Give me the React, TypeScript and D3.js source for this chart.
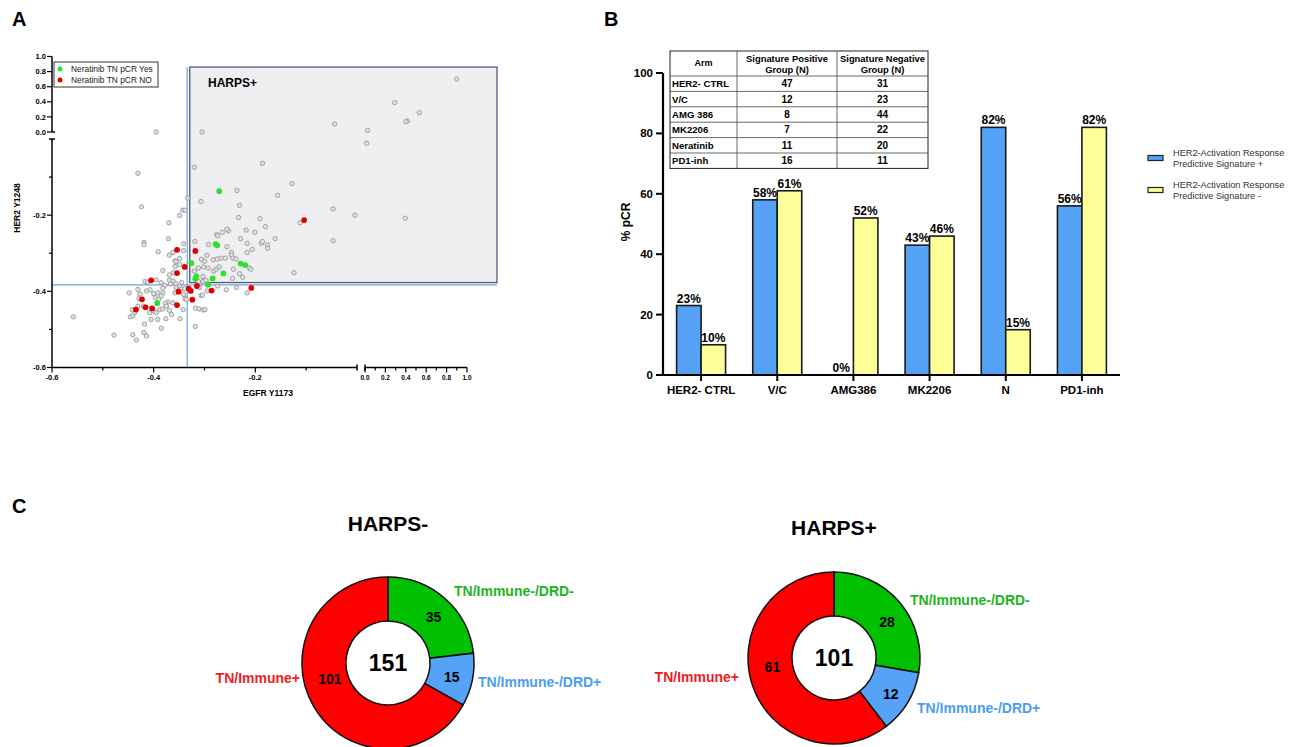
import React from "react";
import * as d3 from "d3";

const FONT = "'Liberation Sans', Arial, Helvetica, sans-serif";

// ---------------- Panel A data (EGFR Y1173 vs HER2 Y1248) ----------------
const greyPoints: [number, number][] = [
  [-0.419,-0.271],[-0.419,-0.277],[-0.371,-0.262],[-0.341,-0.275],[-0.391,-0.296],[-0.369,-0.305],
  [-0.362,-0.298],[-0.358,-0.320],[-0.356,-0.322],[-0.349,-0.314],[-0.341,-0.293],[-0.349,-0.330],
  [-0.358,-0.335],[-0.382,-0.345],[-0.369,-0.357],[-0.361,-0.351],[-0.395,-0.370],[-0.385,-0.377],
  [-0.378,-0.384],[-0.369,-0.371],[-0.362,-0.373],[-0.367,-0.381],[-0.356,-0.380],[-0.349,-0.386],
  [-0.345,-0.377],[-0.356,-0.390],[-0.346,-0.394],[-0.339,-0.393],[-0.358,-0.404],[-0.341,-0.408],
  [-0.339,-0.419],[-0.417,-0.374],[-0.412,-0.376],[-0.448,-0.404],[-0.431,-0.395],[-0.427,-0.407],
  [-0.429,-0.419],[-0.414,-0.399],[-0.407,-0.396],[-0.400,-0.406],[-0.392,-0.404],[-0.382,-0.392],
  [-0.382,-0.404],[-0.385,-0.412],[-0.397,-0.417],[-0.390,-0.421],[-0.372,-0.428],[-0.362,-0.430],
  [-0.377,-0.432],[-0.446,-0.467],[-0.441,-0.464],[-0.437,-0.456],[-0.442,-0.448],[-0.431,-0.439],
  [-0.420,-0.439],[-0.408,-0.456],[-0.400,-0.452],[-0.395,-0.456],[-0.388,-0.448],[-0.382,-0.446],
  [-0.375,-0.439],[-0.369,-0.450],[-0.365,-0.461],[-0.376,-0.472],[-0.392,-0.474],[-0.405,-0.474],
  [-0.348,-0.472],[-0.342,-0.448],[-0.336,-0.421],[-0.418,-0.486],[-0.441,-0.514],[-0.434,-0.528],
  [-0.419,-0.508],[-0.414,-0.517],[-0.385,-0.497],[-0.478,-0.515],[-0.558,-0.467],[-0.318,-0.492],
  [-0.307,-0.411],[-0.304,-0.410],[-0.295,-0.399],[-0.311,-0.446],[-0.303,-0.449],[-0.299,-0.448],
  [-0.318,-0.444],[-0.216,-0.404],[-0.237,-0.390],[-0.257,-0.396],[-0.274,-0.386],[-0.310,-0.390],
  [0.899,0.702],[0.291,0.389],[0.533,0.256],[0.415,0.146],[0.402,0.137],[0.026,0.022],
  [0.016,-0.011],[-0.044,0.106],[-0.305,0.0],[-0.395,0.0],[-0.431,-0.090],[-0.424,-0.178],
  [-0.333,-0.155],[-0.343,-0.187],[-0.338,-0.187],[-0.349,-0.201],[-0.370,-0.220],
  [-0.320,-0.074],[-0.186,-0.064],[-0.128,-0.117],[-0.156,-0.148],[-0.236,-0.135],[-0.307,-0.164],
  [-0.231,-0.174],[-0.233,-0.206],[-0.191,-0.209],[-0.180,-0.230],[-0.112,-0.220],[-0.047,-0.184],
  [-0.004,-0.200],[0.395,-0.208],[-0.047,-0.267],[-0.124,-0.351],[-0.161,-0.262],[-0.218,-0.239],
  [-0.201,-0.245],[-0.253,-0.241],[-0.256,-0.237],[-0.265,-0.245],[-0.276,-0.251],[-0.274,-0.254],
  [-0.229,-0.262],[-0.216,-0.274],[-0.188,-0.274],[-0.186,-0.269],[-0.176,-0.278],[-0.176,-0.287],
  [-0.206,-0.290],[-0.216,-0.298],[-0.247,-0.298],[-0.247,-0.305],[-0.256,-0.283],[-0.295,-0.305],
  [-0.292,-0.277],[-0.319,-0.269],[-0.283,-0.317],[-0.275,-0.315],[-0.267,-0.313],[-0.259,-0.313],
  [-0.244,-0.313],[-0.238,-0.315],[-0.306,-0.316],[-0.300,-0.321],[-0.212,-0.338],[-0.209,-0.342],
  [-0.243,-0.342],[-0.293,-0.339],[-0.282,-0.347],[-0.277,-0.342],[-0.271,-0.336],[-0.312,-0.339],
  [-0.302,-0.336],[-0.320,-0.347],[-0.231,-0.354],[-0.225,-0.363],[-0.245,-0.366],[-0.312,-0.374],
  [-0.303,-0.361],[-0.303,-0.374],[-0.297,-0.371],
];
const greenPoints: [number, number][] = [
  [-0.271,-0.137],[-0.278,-0.276],[-0.275,-0.279],[-0.229,-0.327],[-0.220,-0.331],[-0.263,-0.353],
  [-0.326,-0.326],[-0.284,-0.366],[-0.318,-0.367],[-0.316,-0.361],[-0.293,-0.383],[-0.393,-0.431],
];
const redPoints: [number, number][] = [
  [-0.104,-0.213],[-0.318,-0.294],[-0.354,-0.291],[-0.339,-0.336],[-0.354,-0.352],[-0.405,-0.371],
  [-0.351,-0.401],[-0.331,-0.393],[-0.327,-0.399],[-0.324,-0.422],[-0.354,-0.436],[-0.315,-0.386],
  [-0.286,-0.398],[-0.208,-0.391],[-0.423,-0.421],[-0.435,-0.448],[-0.416,-0.442],[-0.403,-0.445],
];
const legendA = ["Neratinib TN pCR Yes", "Neratinib TN pCR NO"];
const yHiTicks = [0, 0.2, 0.4, 0.6, 0.8, 1.0];
const yLoTicks = [-0.6, -0.4, -0.2];
const yLoMinor = [-0.5, -0.3, -0.1];
const xLoTicks = [-0.6, -0.4, -0.2];
const xLoMinor = [-0.5, -0.3, -0.1];
const xHiTicks = [0, 0.2, 0.4, 0.6, 0.8, 1.0];
const xHiMinor = [0.1, 0.3, 0.5, 0.7, 0.9];
const thresholdX = -0.334;
const thresholdY = -0.383;
const harpsBox = { x0: -0.329, x1: 1.294, y0: -0.377, y1: 0.86 };

// ---------------- Panel B data ----------------
const arms = ["HER2- CTRL", "V/C", "AMG386", "MK2206", "N", "PD1-inh"];
const sigPositive = [23, 58, 0, 43, 82, 56];
const sigNegative = [10, 61, 52, 46, 15, 82];
const yTicksB = [0, 20, 40, 60, 80, 100];
const tableArms = ["HER2- CTRL", "V/C", "AMG 386", "MK2206", "Neratinib", "PD1-inh"];
const tablePosN = [47, 12, 8, 7, 11, 16];
const tableNegN = [31, 23, 44, 22, 20, 11];
const legendB = [
  ["HER2-Activation Response", "Predictive Signature +"],
  ["HER2-Activation Response", "Predictive Signature -"],
];

// ---------------- Panel C data ----------------
const donutCategories = ["TN/Immune-/DRD-", "TN/Immune-/DRD+", "TN/Immune+"];
const harpsMinusCounts = [35, 15, 101];
const harpsPlusCounts = [28, 12, 61];

const GREEN = "#00c000";
const BLUE = "#55a2f7";
const RED = "#ff0000";
const YELLOW = "#ffff99";

function PanelA() {
  const xLo = d3.scaleLinear().domain([-0.6, 0]).range([52, 357]);
  const xHi = d3.scaleLinear().domain([0, 1]).range([365, 467]);
  const yLo = d3.scaleLinear().domain([-0.6, 0]).range([367.5, 139]);
  const yHi = d3.scaleLinear().domain([0, 1]).range([132, 56.5]);
  const X = (v: number) => (v > 0 ? xHi(v) : xLo(v));
  const Y = (v: number) => (v >= 0 ? yHi(v) : yLo(v));
  const axisY0 = yLo(-0.6);
  const axisX0 = xLo(-0.6);
  const tickFont = { fontFamily: FONT, fontSize: 7.5, fontWeight: "bold" as const };
  const fmt = (v: number) => v.toFixed(1);
  return (
    <g>
      <text x={12} y={26} fontFamily={FONT} fontSize={20} fontWeight="bold">A</text>
      {/* HARPS+ box */}
      <rect x={X(harpsBox.x0)} y={Y(harpsBox.y1)} width={X(harpsBox.x1) - X(harpsBox.x0)}
        height={Y(harpsBox.y0) - Y(harpsBox.y1)} fill="#efeef1" stroke="#4d5a7a" strokeWidth={1.3} />
      <text x={208} y={87} fontFamily={FONT} fontSize={12} fontWeight="bold">HARPS+</text>
      {/* threshold lines */}
      <line x1={X(thresholdX)} x2={X(thresholdX)} y1={Y(harpsBox.y1)} y2={axisY0} stroke="#6aa3dc" strokeWidth={1.2} />
      <line x1={axisX0} x2={X(harpsBox.x1)} y1={Y(thresholdY)} y2={Y(thresholdY)} stroke="#6aa3dc" strokeWidth={1.2} />
      {/* points */}
      {greyPoints.map((p, i) => (
        <circle key={"g" + i} cx={X(p[0])} cy={Y(p[1])} r={2.2} fill="#e2e2e2" stroke="#959595" strokeWidth={0.85} />
      ))}
      {greenPoints.map((p, i) => (
        <circle key={"gr" + i} cx={X(p[0])} cy={Y(p[1])} r={2.9} fill="#2ee02e" />
      ))}
      {redPoints.map((p, i) => (
        <circle key={"r" + i} cx={X(p[0])} cy={Y(p[1])} r={2.9} fill="#e00000" />
      ))}
      {/* Y axis lower segment */}
      <line x1={axisX0} x2={axisX0} y1={yLo(-0.6)} y2={yLo(0)} stroke="#000" strokeWidth={1.5} />
      <line x1={axisX0 - 3} x2={axisX0 + 3} y1={yLo(0)} y2={yLo(0)} stroke="#000" strokeWidth={1.5} />
      {yLoTicks.map((t) => (
        <g key={"yl" + t}>
          <line x1={axisX0 - 5} x2={axisX0} y1={yLo(t)} y2={yLo(t)} stroke="#000" strokeWidth={1.2} />
          <text x={axisX0 - 6} y={yLo(t) + 2.6} textAnchor="end" {...tickFont}>{fmt(t)}</text>
        </g>
      ))}
      {yLoMinor.map((t) => (
        <line key={"ylm" + t} x1={axisX0 - 3} x2={axisX0} y1={yLo(t)} y2={yLo(t)} stroke="#000" strokeWidth={1.2} />
      ))}
      {/* Y axis upper segment */}
      <line x1={axisX0} x2={axisX0} y1={yHi(0)} y2={yHi(1)} stroke="#000" strokeWidth={1.5} />
      <line x1={axisX0} x2={axisX0 + 3} y1={yHi(0)} y2={yHi(0)} stroke="#000" strokeWidth={1.5} />
      {yHiTicks.map((t) => (
        <g key={"yh" + t}>
          <line x1={axisX0 - 5} x2={axisX0} y1={yHi(t)} y2={yHi(t)} stroke="#000" strokeWidth={1.2} />
          <text x={axisX0 - 6} y={yHi(t) + 2.6} textAnchor="end" {...tickFont}>{fmt(t)}</text>
        </g>
      ))}
      <text transform={`translate(20,${208}) rotate(-90)`} textAnchor="middle" fontFamily={FONT} fontSize={8.5} fontWeight="bold">HER2 Y1248</text>
      {/* X axis left segment */}
      <line x1={xLo(-0.6)} x2={xLo(0)} y1={axisY0} y2={axisY0} stroke="#000" strokeWidth={1.5} />
      <line x1={xLo(0)} x2={xLo(0)} y1={axisY0 - 3} y2={axisY0 + 3} stroke="#000" strokeWidth={1.5} />
      {xLoTicks.map((t) => (
        <g key={"xl" + t}>
          <line x1={xLo(t)} x2={xLo(t)} y1={axisY0} y2={axisY0 + 5} stroke="#000" strokeWidth={1.2} />
          <text x={xLo(t)} y={axisY0 + 12} textAnchor="middle" {...tickFont}>{fmt(t)}</text>
        </g>
      ))}
      {xLoMinor.map((t) => (
        <line key={"xlm" + t} x1={xLo(t)} x2={xLo(t)} y1={axisY0} y2={axisY0 + 3} stroke="#000" strokeWidth={1.2} />
      ))}
      {/* X axis right segment */}
      <line x1={xHi(0)} x2={xHi(1)} y1={axisY0} y2={axisY0} stroke="#000" strokeWidth={1.5} />
      <line x1={xHi(0)} x2={xHi(0)} y1={axisY0 - 3} y2={axisY0 + 3} stroke="#000" strokeWidth={1.5} />
      {xHiTicks.map((t) => (
        <g key={"xh" + t}>
          <line x1={xHi(t)} x2={xHi(t)} y1={axisY0} y2={axisY0 + 5} stroke="#000" strokeWidth={1.2} />
          <text x={xHi(t)} y={axisY0 + 12} textAnchor="middle" fontFamily={FONT} fontSize={6.5} fontWeight="bold">{fmt(t)}</text>
        </g>
      ))}
      {xHiMinor.map((t) => (
        <line key={"xhm" + t} x1={xHi(t)} x2={xHi(t)} y1={axisY0} y2={axisY0 + 3} stroke="#000" strokeWidth={1.2} />
      ))}
      <text x={268} y={396} textAnchor="middle" fontFamily={FONT} fontSize={8.5} fontWeight="bold">EGFR Y1173</text>
      {/* legend */}
      <rect x={54} y={62} width={104} height={25} fill="#fff" stroke="#333" strokeWidth={1} />
      <circle cx={60} cy={69} r={2.5} fill="#2ee02e" />
      <text x={71} y={72} fontFamily={FONT} fontSize={8.4} fill="#222">{legendA[0]}</text>
      <circle cx={60} cy={80} r={2.5} fill="#e00000" />
      <text x={71} y={83} fontFamily={FONT} fontSize={8.4} fill="#222">{legendA[1]}</text>
    </g>
  );
}

function PanelB() {
  const x = d3.scaleBand<string>().domain(arms).range([663, 1120]).paddingInner(0).paddingOuter(0);
  const xs = d3.scaleBand<string>().domain(["pos", "neg"]).range([0, x.bandwidth()]).paddingInner(0).paddingOuter(0.555);
  const y = d3.scaleLinear().domain([0, 100]).range([375, 73]);
  const bold = { fontFamily: FONT, fontWeight: "bold" as const };
  const series = [
    { key: "pos", vals: sigPositive, color: BLUE },
    { key: "neg", vals: sigNegative, color: YELLOW },
  ];
  // table layout
  const colX = [670, 737, 837, 928];
  const tTop = 51, hdrBottom = 76, rowH = 15.4;
  const tBottom = hdrBottom + rowH * tableArms.length;
  return (
    <g>
      <text x={604} y={26} fontFamily={FONT} fontSize={20} fontWeight="bold">B</text>
      {series.map((s) =>
        s.vals.map((v, i) => (
          <rect key={s.key + i} x={(x(arms[i]) as number) + (xs(s.key) as number)} y={y(v)}
            width={xs.bandwidth()} height={y(0) - y(v)} fill={s.color} stroke="#1a1a1a" strokeWidth={1.6} />
        ))
      )}
      {series.map((s) =>
        s.vals.map((v, i) => (
          <text key={"l" + s.key + i} x={(x(arms[i]) as number) + (xs(s.key) as number) + xs.bandwidth() / 2}
            y={y(v) - 3} textAnchor="middle" fontSize={12} {...bold}>{v}%</text>
        ))
      )}
      {/* axes */}
      <line x1={663} x2={663} y1={y(0)} y2={y(100)} stroke="#000" strokeWidth={2.2} />
      {yTicksB.map((t) => (
        <g key={"yb" + t}>
          <line x1={656} x2={663} y1={y(t)} y2={y(t)} stroke="#000" strokeWidth={2} />
          <text x={653} y={y(t) + 4} textAnchor="end" fontSize={11.5} {...bold}>{t}</text>
        </g>
      ))}
      <line x1={656} x2={1120} y1={y(0)} y2={y(0)} stroke="#000" strokeWidth={2.2} />
      {arms.map((a) => (
        <g key={"xb" + a}>
          <line x1={(x(a) as number) + x.bandwidth() / 2} x2={(x(a) as number) + x.bandwidth() / 2} y1={y(0)} y2={y(0) + 6} stroke="#000" strokeWidth={2} />
          <text x={(x(a) as number) + x.bandwidth() / 2} y={394} textAnchor="middle" fontSize={11.5} {...bold}>{a}</text>
        </g>
      ))}
      <text transform={`translate(630,222) rotate(-90)`} textAnchor="middle" fontSize={12} {...bold}>% pCR</text>
      {/* table */}
      <rect x={colX[0]} y={tTop} width={colX[3] - colX[0]} height={tBottom - tTop} fill="#fff" stroke="#222" strokeWidth={1} />
      {[colX[1], colX[2]].map((cx) => (
        <line key={"c" + cx} x1={cx} x2={cx} y1={tTop} y2={tBottom} stroke="#444" strokeWidth={0.8} />
      ))}
      {tableArms.map((_, i) => (
        <line key={"rl" + i} x1={colX[0]} x2={colX[3]} y1={hdrBottom + rowH * i} y2={hdrBottom + rowH * i} stroke="#444" strokeWidth={0.8} />
      ))}
      <text x={(colX[0] + colX[1]) / 2} y={66} textAnchor="middle" fontSize={9} {...bold}>Arm</text>
      <text x={(colX[1] + colX[2]) / 2} y={61.5} textAnchor="middle" fontSize={9.4} {...bold}>Signature Positive</text>
      <text x={(colX[1] + colX[2]) / 2} y={72.5} textAnchor="middle" fontSize={9.4} {...bold}>Group (N)</text>
      <text x={(colX[2] + colX[3]) / 2} y={61.5} textAnchor="middle" fontSize={9.4} {...bold}>Signature Negative</text>
      <text x={(colX[2] + colX[3]) / 2} y={72.5} textAnchor="middle" fontSize={9.4} {...bold}>Group (N)</text>
      {tableArms.map((a, i) => {
        const cy = hdrBottom + rowH * i + rowH / 2 + 3.5;
        return (
          <g key={"tr" + i}>
            <text x={colX[0] + 2} y={cy} fontSize={9.6} {...bold}>{a}</text>
            <text x={(colX[1] + colX[2]) / 2} y={cy} textAnchor="middle" fontSize={10} {...bold}>{tablePosN[i]}</text>
            <text x={(colX[2] + colX[3]) / 2} y={cy} textAnchor="middle" fontSize={10} {...bold}>{tableNegN[i]}</text>
          </g>
        );
      })}
      {/* legend */}
      {legendB.map((lines, i) => (
        <g key={"lg" + i} transform={`translate(1148,${158 + i * 32})`}>
          <rect x={0} y={-2.5} width={15} height={5} fill={i === 0 ? BLUE : YELLOW} stroke="#222" strokeWidth={1.2} />
          <text x={25} y={-2} fontFamily={FONT} fontSize={9.2} fill="#333">{lines[0]}</text>
          <text x={25} y={9} fontFamily={FONT} fontSize={9.2} fill="#333">{lines[1]}</text>
        </g>
      ))}
    </g>
  );
}

type DonutProps = {
  cx: number; cy: number; title: string; titleY: number; counts: number[];
  labelPos: [number, number, "start" | "end"][];
  numberShift: [number, number][];
};

function Donut({ cx, cy, title, titleY, counts, labelPos, numberShift }: DonutProps) {
  const colors = [GREEN, BLUE, RED];
  const textColors = ["#1db51d", "#4d9cf0", "#ee1c24"];
  const pie = d3.pie<number>().sort(null).value((d) => d);
  const arcs = pie(counts);
  const arc = d3.arc<d3.PieArcDatum<number>>().innerRadius(42).outerRadius(86);
  const total = d3.sum(counts);
  return (
    <g>
      <text x={cx} y={titleY} textAnchor="middle" fontFamily={FONT} fontSize={21} fontWeight="bold">{title}</text>
      <g transform={`translate(${cx},${cy})`}>
        {arcs.map((a, i) => (
          <path key={i} d={arc(a) as string} fill={colors[i]} stroke="#111" strokeWidth={1.5} />
        ))}
        {arcs.map((a, i) => {
          const [lx, ly] = arc.centroid(a);
          return (
            <text key={"n" + i} x={lx + numberShift[i][0]} y={ly + 5 + numberShift[i][1]} textAnchor="middle"
              fontFamily={FONT} fontSize={14} fontWeight="bold">{counts[i]}</text>
          );
        })}
        <text x={0} y={8} textAnchor="middle" fontFamily={FONT} fontSize={23} fontWeight="bold">{total}</text>
        {donutCategories.map((c, i) => (
          <text key={"c" + i} x={labelPos[i][0]} y={labelPos[i][1]} textAnchor={labelPos[i][2]}
            fontFamily={FONT} fontSize={14} fontWeight="bold" fill={textColors[i]}>{c}</text>
        ))}
      </g>
    </g>
  );
}

export default function App() {
  return (
    <svg width={1294} height={747} style={{ position: "absolute", left: 0, top: 0, background: "#fff" }}>
      <rect x={0} y={0} width={1294} height={747} fill="#fff" />
      <PanelA />
      <PanelB />
      <text x={12} y={513} fontFamily={FONT} fontSize={20} fontWeight="bold">C</text>
      <Donut cx={388} cy={663} title="HARPS-" titleY={531} counts={harpsMinusCounts}
        labelPos={[[66, -67, "start"], [90, 24, "start"], [-88, 20, "end"]]}
        numberShift={[[3, 2], [1, 1], [-3, -16]]} />
      <Donut cx={834} cy={658} title="HARPS+" titleY={535} counts={harpsPlusCounts}
        labelPos={[[76, -53, "start"], [83, 55, "start"], [-95, 24, "end"]]}
        numberShift={[[4, 5], [2, 3], [-1, -12]]} />
    </svg>
  );
}
